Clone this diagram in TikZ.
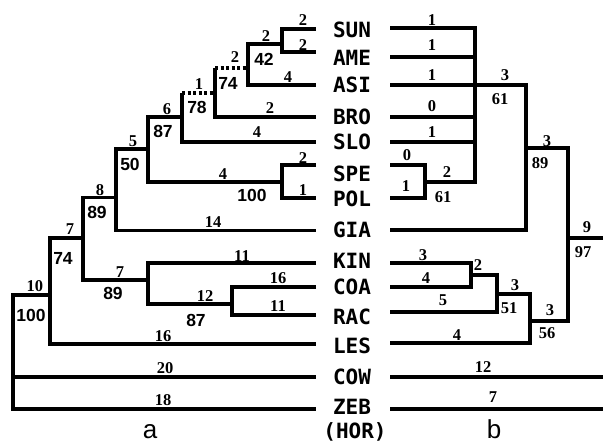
\documentclass[tikz,border=0pt]{standalone}
\usepackage{fontspec}
\setmainfont{Liberation Serif}
\newfontfamily\bsfont{Liberation Sans}
\newfontfamily\taxfont{DejaVu Sans Mono}
\begin{document}
\begin{tikzpicture}[x=1pt,y=-1pt,
  br/.style={line width=3.3pt,line join=miter},
  dsh/.style={line width=3.3pt,dash pattern=on 3pt off 2.5pt},
  bl/.style={inner sep=0pt,font=\fontsize{16.5}{16.5}\selectfont\bfseries},
  bs/.style={inner sep=0pt,font=\fontsize{17.5}{17.5}\selectfont\bsfont\bfseries},
  tx/.style={inner sep=0pt,font=\fontsize{21}{21}\selectfont\taxfont\bfseries},
  captxt/.style={inner sep=0pt,font=\fontsize{26}{26}\selectfont\bsfont}]
\useasboundingbox (0,0) rectangle (603,445);
% ---------- taxa labels ----------
\node[tx] (tSUN) at (352,30) {SUN};
\node[tx] (tAME) at (352,58) {AME};
\node[tx] (tASI) at (352,85) {ASI};
\node[tx] (tBRO) at (352,117) {BRO};
\node[tx] (tSLO) at (352,142) {SLO};
\node[tx] (tSPE) at (352,174) {SPE};
\node[tx] (tPOL) at (352,199) {POL};
\node[tx] (tGIA) at (352,230) {GIA};
\node[tx] (tKIN) at (352,261) {KIN};
\node[tx] (tCOA) at (352,287) {COA};
\node[tx] (tRAC) at (352,317) {RAC};
\node[tx] (tLES) at (352,346) {LES};
\node[tx] (tCOW) at (352,377) {COW};
\node[tx] (tZEB) at (352,407) {ZEB};
\node[tx] (tHOR) at (355,432) {(HOR)};
\node[captxt] (capa) at (150,432) {a};
\node[captxt] (capb) at (494,429) {b};
% ---------- left tree ----------
\draw[br] (316,29) -- (282,29) -- (282,52) -- (316,52);
\draw[br] (282,44) -- (248,44) -- (248,85) -- (316,85);
\draw[dsh] (215,68) -- (248,68);
\draw[br] (215,68) -- (215,117) -- (316,117);
\draw[dsh] (182,93) -- (215,93);
\draw[br] (182,93) -- (182,142) -- (316,142);
\draw[br] (182,117) -- (148,117) -- (148,182) -- (282,182);
\draw[br] (316,165) -- (282,165) -- (282,198) -- (316,198);
\draw[br] (148,149) -- (116,149) -- (116,230.5) -- (316,230.5);
\draw[br] (116,197.5) -- (83,197.5) -- (83,280) -- (148,280);
\draw[br] (316,263) -- (148,263) -- (148,304) -- (232,304);
\draw[br] (316,287) -- (232,287) -- (232,315) -- (316,315);
\draw[br] (83,238) -- (50,238) -- (50,344) -- (316,344);
\draw[br] (50,295) -- (13,295) -- (13,409) -- (316,409);
\draw[br] (13,377) -- (316,377);
% left labels
\node[bl] (a1) at (303,20) {2};
\node[bl] (a2) at (303,45) {2};
\node[bl] (a3) at (266,36.5) {2};
\node[bs] (a4) at (264,59) {42};
\node[bl] (a5) at (288,77) {4};
\node[bl] (a6) at (235,57) {2};
\node[bs] (a7) at (228,83) {74};
\node[bl] (a8) at (199,84) {1};
\node[bs] (a9) at (197,107) {78};
\node[bl] (a10) at (270,108) {2};
\node[bl] (a11) at (167,109) {6};
\node[bs] (a12) at (163,131) {87};
\node[bl] (a13) at (257,132) {4};
\node[bl] (a14) at (133,141) {5};
\node[bs] (a15) at (130,164) {50};
\node[bl] (a16) at (303,158) {2};
\node[bl] (a17) at (223,174) {4};
\node[bl] (a18) at (303,190) {1};
\node[bs] (a19) at (252,195) {100};
\node[bl] (a20) at (100,190) {8};
\node[bs] (a21) at (97,212) {89};
\node[bl] (a22) at (213,222) {14};
\node[bl] (a23) at (70,229) {7};
\node[bs] (a24) at (63,258) {74};
\node[bl] (a25) at (242,256) {11};
\node[bl] (a26) at (120,272) {7};
\node[bl] (a27) at (278,278) {16};
\node[bs] (a28) at (113,293) {89};
\node[bl] (a29) at (35,286) {10};
\node[bl] (a30) at (205,296) {12};
\node[bl] (a31) at (278,306) {11};
\node[bs] (a32) at (31,315) {100};
\node[bs] (a33) at (196,320) {87};
\node[bl] (a34) at (163,336) {16};
\node[bl] (a35) at (165,368) {20};
\node[bl] (a36) at (163,400) {18};
% ---------- right tree ----------
\draw[br] (390,28) -- (475,28) -- (475,182) -- (425,182);
\draw[br] (390,57) -- (475,57);
\draw[br] (390,85) -- (526,85) -- (526,230) -- (390,230);
\draw[br] (390,117) -- (475,117);
\draw[br] (390,142) -- (475,142);
\draw[br] (390,165) -- (425,165) -- (425,198) -- (390,198);
\draw[br] (526,148) -- (568,148) -- (568,321) -- (530,321);
\draw[br] (568,238) -- (603,238);
\draw[br] (390,263) -- (471,263) -- (471,287) -- (390,287);
\draw[br] (471,275) -- (497,275) -- (497,312) -- (390,312);
\draw[br] (497,294) -- (530,294) -- (530,343) -- (390,343);
\draw[br] (390,377) -- (603,377);
\draw[br] (390,409) -- (603,409);
% right labels
\node[bl] (b1) at (432,20) {1};
\node[bl] (b2) at (432,45) {1};
\node[bl] (b3) at (432,75) {1};
\node[bl] (b4) at (432,106) {0};
\node[bl] (b5) at (432,132) {1};
\node[bl] (b6) at (407,155) {0};
\node[bl] (b7) at (406,186) {1};
\node[bl] (b8) at (447,172) {2};
\node[bl] (b9) at (443,197) {61};
\node[bl] (b10) at (505,75) {3};
\node[bl] (b11) at (500,99) {61};
\node[bl] (b12) at (547,141) {3};
\node[bl] (b13) at (540,163) {89};
\node[bl] (b14) at (587,227) {9};
\node[bl] (b15) at (583,252) {97};
\node[bl] (b16) at (423,255) {3};
\node[bl] (b17) at (426,278) {4};
\node[bl] (b18) at (478,265) {2};
\node[bl] (b19) at (443,300) {5};
\node[bl] (b20) at (515,285) {3};
\node[bl] (b21) at (509,308) {51};
\node[bl] (b22) at (457,335) {4};
\node[bl] (b23) at (550,310) {3};
\node[bl] (b24) at (547,333) {56};
\node[bl] (b25) at (483,367) {12};
\node[bl] (b26) at (493,397) {7};
\end{tikzpicture}
\end{document}
